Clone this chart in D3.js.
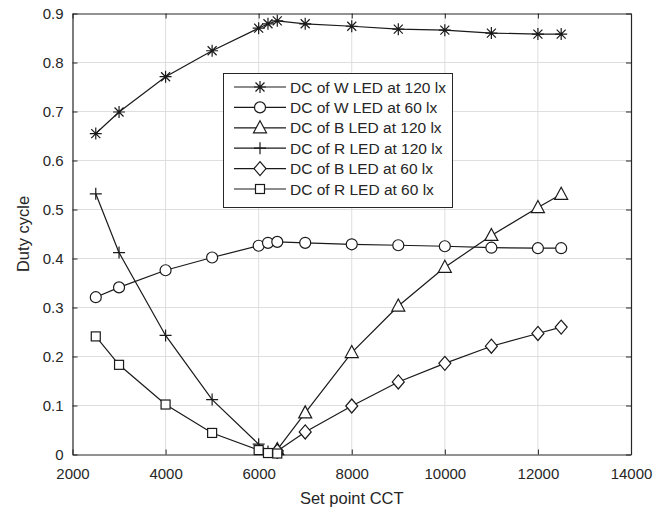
<!DOCTYPE html>
<html>
<head>
<meta charset="utf-8">
<script src="https://cdn.jsdelivr.net/npm/d3@7"></script>
<style>
  body { margin: 0; background: #fff; }
  svg { display: block; font-family: 'Liberation Sans', Arial, sans-serif; }
  .tick-label { font-size: 15px; fill: #262626; }
  .axis-title { font-size: 16.5px; fill: #262626; }
  .legend-text { font-size: 15.5px; fill: #262626; }
</style>
</head>
<body>
<svg id="canvas"></svg>
<script>
////////////////////////////////////////////////////////////////////////////////
// Data.
////////////////////////////////////////////////////////////////////////////////

// Set point CCT values for the W series (full sweep).
var cctAll = [2500, 3000, 4000, 5000, 6000, 6200, 6400, 7000, 8000, 9000, 10000, 11000, 12000, 12500];

// Set point CCT values for the R series (stops once red is off).
var cctRed = [2500, 3000, 4000, 5000, 6000, 6200, 6400];

// Set point CCT values for the B series (starts once blue is on).
var cctBlue = [6400, 7000, 8000, 9000, 10000, 11000, 12000, 12500];

// Duty cycle values.
var dcW120 = [0.655, 0.699, 0.771, 0.824, 0.870, 0.879, 0.885, 0.879, 0.874, 0.868, 0.866, 0.860, 0.858, 0.858];
var dcW60  = [0.321, 0.341, 0.376, 0.402, 0.426, 0.432, 0.434, 0.432, 0.429, 0.427, 0.425, 0.422, 0.421, 0.421];
var dcB120 = [0.010, 0.085, 0.208, 0.303, 0.382, 0.447, 0.504, 0.531];
var dcR120 = [0.532, 0.412, 0.243, 0.112, 0.021, 0.006, 0.003];
var dcB60  = [0.007, 0.046, 0.099, 0.148, 0.186, 0.221, 0.247, 0.260];
var dcR60  = [0.241, 0.183, 0.102, 0.044, 0.009, 0.003, 0.002];

// Legend labels.
var seriesNames = [
  'DC of W LED at 120 lx',
  'DC of W LED at 60 lx',
  'DC of B LED at 120 lx',
  'DC of R LED at 120 lx',
  'DC of B LED at 60 lx',
  'DC of R LED at 60 lx'
];

// Axis ticks.
var xTicks = [2000, 4000, 6000, 8000, 10000, 12000, 14000];
var yTicks = [0, 0.1, 0.2, 0.3, 0.4, 0.5, 0.6, 0.7, 0.8, 0.9];

////////////////////////////////////////////////////////////////////////////////
// Layout.
////////////////////////////////////////////////////////////////////////////////
var canvas = { width: 670, height: 516 };
var plot = { left: 72.5, right: 631, top: 13.5, bottom: 454.5 };
var ink = '#262626';
var lineColour = '#1a1a1a';

var series = [
  { name: seriesNames[0], x: cctAll,  y: dcW120, marker: 'asterisk' },
  { name: seriesNames[1], x: cctAll,  y: dcW60,  marker: 'circle' },
  { name: seriesNames[2], x: cctBlue, y: dcB120, marker: 'triangle' },
  { name: seriesNames[3], x: cctRed,  y: dcR120, marker: 'plus' },
  { name: seriesNames[4], x: cctBlue, y: dcB60,  marker: 'diamond' },
  { name: seriesNames[5], x: cctRed,  y: dcR60,  marker: 'square' }
];

var svg = d3.select('#canvas')
            .attr('width', canvas.width)
            .attr('height', canvas.height);

var xScale = d3.scaleLinear().domain([2000, 14000]).range([plot.left, plot.right]);
var yScale = d3.scaleLinear().domain([0, 0.9]).range([plot.bottom, plot.top]);

////////////////////////////////////////////////////////////////////////////////
// Grid, box and ticks.
////////////////////////////////////////////////////////////////////////////////
var grid = svg.append('g').attr('stroke', '#dedede').attr('stroke-width', 1);
grid.selectAll('.gx').data(xTicks.slice(1, -1)).enter().append('line')
    .attr('x1', function(d) { return xScale(d); })
    .attr('x2', function(d) { return xScale(d); })
    .attr('y1', plot.top).attr('y2', plot.bottom);
grid.selectAll('.gy').data(yTicks.slice(1, -1)).enter().append('line')
    .attr('y1', function(d) { return yScale(d); })
    .attr('y2', function(d) { return yScale(d); })
    .attr('x1', plot.left).attr('x2', plot.right);

// Axes with inward ticks on all four sides.
var tickLen = 5;
var axisBottom = d3.axisBottom(xScale).tickValues(xTicks).tickSizeInner(-tickLen).tickSizeOuter(0).tickPadding(14)
                   .tickFormat(d3.format('d'));
var axisTop = d3.axisTop(xScale).tickValues(xTicks).tickSizeInner(-tickLen).tickSizeOuter(0).tickFormat('');
var axisLeft = d3.axisLeft(yScale).tickValues(yTicks).tickSizeInner(-tickLen).tickSizeOuter(0).tickPadding(9)
                 .tickFormat(function(d) { return d === 0 ? '0' : d3.format('.1f')(d); });
var axisRight = d3.axisRight(yScale).tickValues(yTicks).tickSizeInner(-tickLen).tickSizeOuter(0).tickFormat('');

function styleAxis(g) {
  g.select('.domain').attr('stroke', ink).attr('stroke-width', 1.2);
  g.selectAll('.tick line').attr('stroke', ink);
  g.selectAll('.tick text').attr('class', 'tick-label').attr('font-family', null).attr('font-size', null).attr('fill', null);
}

svg.append('g').attr('transform', 'translate(0,' + plot.bottom + ')').call(axisBottom).call(styleAxis);
svg.append('g').attr('transform', 'translate(0,' + plot.top + ')').call(axisTop).call(styleAxis);
svg.append('g').attr('transform', 'translate(' + plot.left + ',0)').call(axisLeft).call(styleAxis);
svg.append('g').attr('transform', 'translate(' + plot.right + ',0)').call(axisRight).call(styleAxis);

// Axis titles.
svg.append('text').attr('class', 'axis-title').attr('text-anchor', 'middle')
   .attr('x', (plot.left + plot.right) / 2).attr('y', 504)
   .text('Set point CCT');
svg.append('text').attr('class', 'axis-title').attr('text-anchor', 'middle')
   .attr('transform', 'translate(29,' + (plot.top + plot.bottom) / 2 + ') rotate(-90)')
   .text('Duty cycle');

////////////////////////////////////////////////////////////////////////////////
// Marker drawing.
////////////////////////////////////////////////////////////////////////////////
function drawMarker(g, type) {
  var s = 6;
  g.attr('fill', 'none').attr('stroke', lineColour).attr('stroke-width', 1.2);
  if (type === 'circle') {
    g.append('circle').attr('r', 5.5).attr('fill', '#fff');
  } else if (type === 'square') {
    g.append('rect').attr('x', -4.5).attr('y', -4.5).attr('width', 9).attr('height', 9).attr('fill', '#fff');
  } else if (type === 'diamond') {
    g.append('path').attr('d', 'M0,-7L6,0L0,7L-6,0Z').attr('fill', '#fff');
  } else if (type === 'triangle') {
    g.append('path').attr('d', 'M0,-7L6.5,5L-6.5,5Z').attr('fill', '#fff');
  } else if (type === 'plus') {
    g.append('path').attr('d', 'M-' + s + ',0H' + s + 'M0,-' + s + 'V' + s);
  } else if (type === 'asterisk') {
    var d = 4.5;
    g.append('path').attr('d', 'M-' + s + ',0H' + s + 'M0,-' + s + 'V' + s +
                               'M-' + d + ',-' + d + 'L' + d + ',' + d +
                               'M-' + d + ',' + d + 'L' + d + ',-' + d);
  }
}

////////////////////////////////////////////////////////////////////////////////
// Series lines and markers.
////////////////////////////////////////////////////////////////////////////////
var line = d3.line()
             .x(function(d) { return xScale(d[0]); })
             .y(function(d) { return yScale(d[1]); });

series.forEach(function(s) {
  var pts = s.x.map(function(x, i) { return [x, s.y[i]]; });
  svg.append('path').datum(pts)
     .attr('d', line)
     .attr('fill', 'none')
     .attr('stroke', lineColour)
     .attr('stroke-width', 1.2);
  svg.selectAll(null).data(pts).enter().append('g')
     .attr('transform', function(d) { return 'translate(' + xScale(d[0]) + ',' + yScale(d[1]) + ')'; })
     .each(function() { drawMarker(d3.select(this), s.marker); });
});

////////////////////////////////////////////////////////////////////////////////
// Legend.
////////////////////////////////////////////////////////////////////////////////
var legendBox = { x: 223.5, y: 73.5, width: 229, height: 134 };
var legend = svg.append('g');
legend.append('rect')
      .attr('x', legendBox.x).attr('y', legendBox.y)
      .attr('width', legendBox.width).attr('height', legendBox.height)
      .attr('fill', '#fff').attr('stroke', ink).attr('stroke-width', 1);

var rows = legend.selectAll('.legend-row').data(series).enter().append('g')
                 .attr('transform', function(d, i) { return 'translate(0,' + (87 + i * 20.4) + ')'; });
rows.append('line').attr('x1', 234).attr('x2', 286).attr('y1', 0).attr('y2', 0)
    .attr('stroke', lineColour).attr('stroke-width', 1.2);
rows.append('g').attr('transform', 'translate(260,0)')
    .each(function(d) { drawMarker(d3.select(this), d.marker); });
rows.append('text').attr('class', 'legend-text')
    .attr('x', 290).attr('y', 5.5)
    .text(function(d) { return d.name; });
</script>
</body>
</html>
